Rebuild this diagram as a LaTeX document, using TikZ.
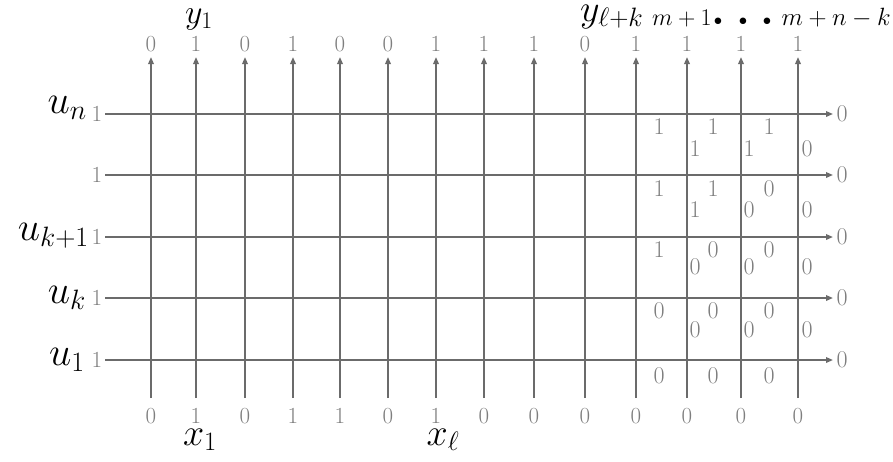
\RequirePackage{fix-cm}
\documentclass[tikz,border=0pt]{standalone}
\usetikzlibrary{arrows.meta}
\definecolor{linegray}{HTML}{6B6B6B}
\definecolor{txtgray}{HTML}{7E7E7E}
\begin{document}
\begin{tikzpicture}[x=1pt,y=-1pt,
  wire/.style={draw=linegray,line width=1.7pt,-{Triangle[length=7pt,width=5.5pt]}},
  bit/.style={text=txtgray,inner sep=0pt,font=\fontsize{23}{23}\selectfont},
  cellbit/.style={text=txtgray,inner sep=0pt,font=\fontsize{24}{24}\selectfont},
  ylab/.style={inner sep=0pt,font=\fontsize{34}{34}\selectfont},
  xlab/.style={inner sep=0pt,font=\fontsize{38}{38}\selectfont},
  ulab/.style={inner sep=0pt,font=\fontsize{40}{40}\selectfont},
  sublab/.style={inner sep=0pt,font=\fontsize{24}{24}\selectfont},
]
\useasboundingbox (0,0) rectangle (893,461);
% columns
\foreach \x/\t/\b [count=\i] in {151/0/0,196/1/1,245/0/0,293/1/1,340/0/1,388/0/0,436/1/1,484/1/0,534/1/0,585/0/0,636/1/0,687/1/0,741/1/0,798/1/0}{
  \coordinate (b\i) at (\x,398);
  \coordinate (t\i) at (\x,57);
  \draw[wire] (b\i) -- (t\i);
  \node[bit] (tb\i) at (\x,44) {\t};
  \node[bit] (bb\i) at (\x,416) {\b};
}
% rows
\foreach \y [count=\j] in {114,175,237,298,360}{
  \coordinate (l\j) at (105,\y);
  \coordinate (r\j) at (833,\y);
  \draw[wire] (l\j) -- (r\j);
  \node[bit] (lb\j) at (97,\y) {1};
  \node[cellbit] (rb\j) at (842,\y) {0};
}
% horizontal edge labels
\foreach \y/\a/\b/\c [count=\j] in {127/1/1/1,189/1/1/0,250/1/0/0,311/0/0/0,376/0/0/0}{
  \node[cellbit] (ha\j) at (659,\y) {\a};
  \node[cellbit] (hb\j) at (713,\y) {\b};
  \node[cellbit] (hc\j) at (769,\y) {\c};
}
% vertical edge labels
\foreach \y/\a/\b/\c [count=\j] in {149/1/1/0,210/1/0/0,267/0/0/0,330/0/0/0}{
  \node[cellbit] (va\j) at (695,\y) {\a};
  \node[cellbit] (vb\j) at (749,\y) {\b};
  \node[cellbit] (vc\j) at (807,\y) {\c};
}
% math labels
\node[ylab,anchor=base] (y1) at (199,23) {$y_1$};
\node[xlab,anchor=base west] (ylk) at (580,21) {$y_{\ell+k}$};
\node[sublab,anchor=base west] (ma) at (652,25) {$m+1$};
\foreach \x [count=\i] in {718,743,767}{
  \node[sublab,anchor=base] (dot\i) at (\x,25) {${\scriptstyle\bullet}$};
}
\node[sublab,anchor=base east,font=\fontsize{25}{25}\selectfont] (mb) at (891,25) {$m+n-k$};
\node[xlab,anchor=base] (x1) at (200,445) {$x_1$};
\node[xlab,anchor=base] (xl) at (443,445) {$x_\ell$};
\node[ulab,anchor=base east] (un) at (87,113) {$u_n$};
\node[ulab,anchor=base east] (uk1) at (89,240) {$u_{k+1}$};
\node[ulab,anchor=base east] (uk) at (86,303) {$u_k$};
\node[ulab,anchor=base east] (u1) at (85,365) {$u_1$};
\end{tikzpicture}
\end{document}
